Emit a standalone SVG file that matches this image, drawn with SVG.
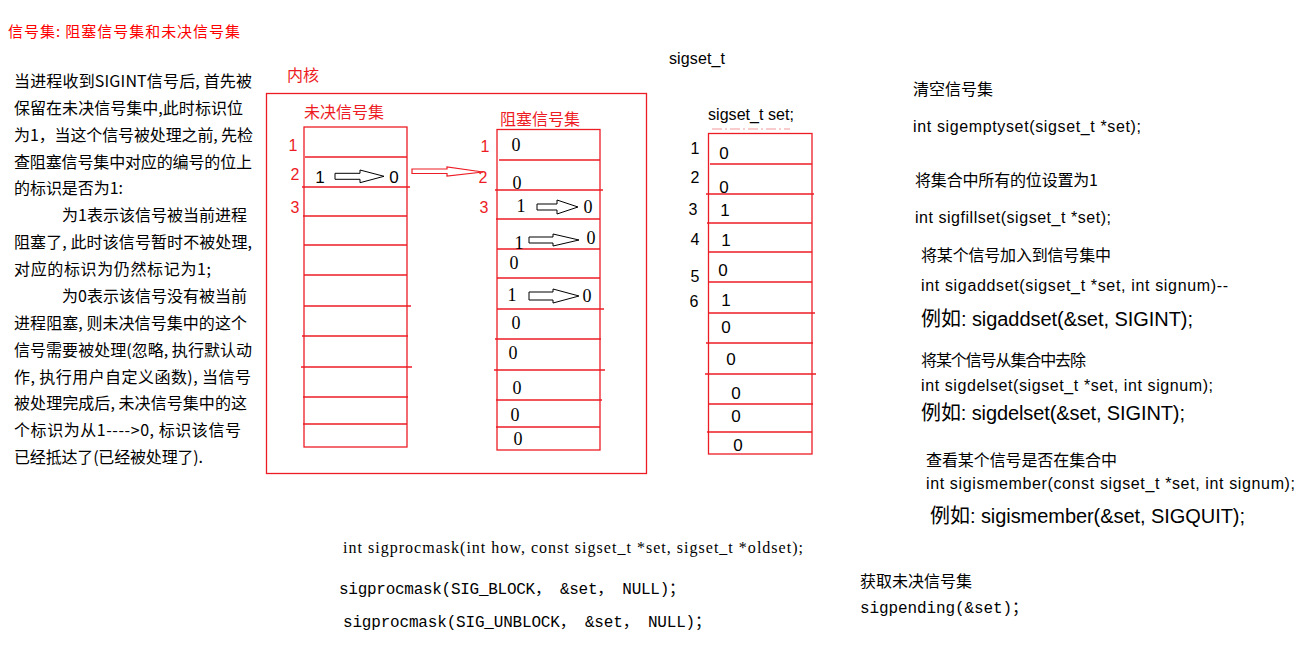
<svg xmlns="http://www.w3.org/2000/svg" width="1314" height="654" viewBox="0 0 1314 654">
<defs>
<style>
.cn{font-family:"Noto Sans CJK SC","Noto Sans",sans-serif;font-size:16px;fill:#000}
.red{fill:#ed1c24}
.ttl{font-family:"Noto Sans CJK SC",sans-serif;font-size:15px;fill:#ff0000}
.sans{font-family:"Liberation Sans","Noto Sans CJK SC",sans-serif;font-size:16px;fill:#000}
.big{font-size:20px}
.serif{font-family:"Liberation Serif","Noto Sans CJK SC",serif;font-size:16px;fill:#000}
.mono{font-family:"Liberation Mono","Noto Sans CJK SC",monospace;font-size:16px;fill:#000}
.num{font-family:"Liberation Sans",sans-serif;font-size:16px;text-anchor:middle}
.val{font-family:"Liberation Serif",serif;font-size:18px;text-anchor:middle;fill:#000}
.sval{font-family:"Liberation Sans",sans-serif;font-size:17px;text-anchor:middle;fill:#000}
.box{fill:none;stroke:#ed1c24;stroke-width:1.3}
.ln{stroke:#ed1c24;stroke-width:1.3}
.arr{fill:#fff;stroke:#000;stroke-width:1}
.rarr{fill:#fff;stroke:#ed1c24;stroke-width:1.2}
</style>
</defs>
<rect width="1314" height="654" fill="#fff"/>

<g id="title"><text class="ttl" x="8" y="36.5" textLength="232">信号集: 阻塞信号集和未决信号集</text></g>

<g id="explanation" class="cn">
<text x="14" y="87" textLength="238">当进程收到SIGINT信号后, 首先被</text>
<text x="14" y="113.9" textLength="229">保留在未决信号集中,此时标识位</text>
<text x="14" y="140.7" textLength="239">为1，当这个信号被处理之前, 先检</text>
<text x="14" y="167.6" textLength="238">查阻塞信号集中对应的编号的位上</text>
<text x="14" y="194.4" textLength="109">的标识是否为1:</text>
<text x="62" y="221.3" textLength="185">为1表示该信号被当前进程</text>
<text x="14" y="248.2" textLength="238">阻塞了, 此时该信号暂时不被处理,</text>
<text x="14" y="275" textLength="197">对应的标识为仍然标记为1;</text>
<text x="62" y="301.9" textLength="185">为0表示该信号没有被当前</text>
<text x="14" y="328.7" textLength="233">进程阻塞, 则未决信号集中的这个</text>
<text x="14" y="355.6" textLength="238">信号需要被处理(忽略, 执行默认动</text>
<text x="14" y="382.5" textLength="237">作, 执行用户自定义函数), 当信号</text>
<text x="14" y="409.3" textLength="233">被处理完成后, 未决信号集中的这</text>
<text x="14" y="436.2" textLength="227">个标识为从1----&gt;0, 标识该信号</text>
<text x="14" y="463" textLength="189">已经抵达了(已经被处理了).</text>
</g>

<g id="kernel">
<rect class="box" x="266.5" y="93.5" width="380" height="380"/>
<text class="cn red" x="287" y="81">内核</text>
</g>

<g id="pending-set">
<text class="cn red" x="304" y="118">未决信号集</text>
<rect class="box" x="304" y="127" width="103" height="320"/>
<line class="ln" x1="305" y1="157" x2="407" y2="157"/>
<line class="ln" x1="302" y1="187" x2="410" y2="187"/>
<line class="ln" x1="303" y1="216" x2="407" y2="216"/>
<line class="ln" x1="304" y1="245" x2="407" y2="245"/>
<line class="ln" x1="304" y1="275" x2="407" y2="275"/>
<line class="ln" x1="304" y1="306" x2="411" y2="306"/>
<line class="ln" x1="302" y1="336" x2="408" y2="336"/>
<line class="ln" x1="301" y1="367" x2="412" y2="367"/>
<line class="ln" x1="303" y1="397" x2="408" y2="397"/>
<line class="ln" x1="303" y1="424" x2="407" y2="424"/>
<text class="num red" x="293" y="151">1</text>
<text class="num red" x="295" y="180">2</text>
<text class="num red" x="295" y="213">3</text>
<text class="sval" x="320" y="183">1</text>
<text class="sval" x="394" y="183">0</text>
</g>

<g id="blocked-set">
<text class="cn red" x="500" y="125">阻塞信号集</text>
<rect class="box" x="497" y="129.5" width="103" height="320.5"/>
<line class="ln" x1="499" y1="160" x2="600" y2="160"/>
<line class="ln" x1="495" y1="190" x2="603" y2="190"/>
<line class="ln" x1="496" y1="219" x2="600" y2="219"/>
<line class="ln" x1="497" y1="249" x2="600" y2="249"/>
<line class="ln" x1="497" y1="278" x2="600" y2="278"/>
<line class="ln" x1="497" y1="309" x2="604" y2="309"/>
<line class="ln" x1="495" y1="339" x2="601" y2="339"/>
<line class="ln" x1="494" y1="370" x2="605" y2="370"/>
<line class="ln" x1="496" y1="400" x2="602" y2="400"/>
<line class="ln" x1="496" y1="427" x2="600" y2="427"/>
<text class="num red" x="485" y="152">1</text>
<text class="num red" x="483" y="183">2</text>
<text class="num red" x="484" y="213">3</text>
<text class="val" x="516" y="151">0</text>
<text class="val" x="517" y="189">0</text>
<text class="val" x="521" y="212">1</text>
<text class="val" x="588" y="213">0</text>
<text class="val" x="519" y="249">1</text>
<text class="val" x="591" y="244">0</text>
<text class="val" x="514" y="269">0</text>
<text class="val" x="512" y="301">1</text>
<text class="val" x="587" y="302">0</text>
<text class="val" x="516" y="329">0</text>
<text class="val" x="513" y="359">0</text>
<text class="val" x="517" y="394">0</text>
<text class="val" x="515" y="421">0</text>
<text class="val" x="518" y="445">0</text>
</g>

<g id="sigset">
<text class="sans" x="669" y="64" textLength="56">sigset_t</text>
<text class="sans" x="708" y="120" textLength="86">sigset_t set;</text>
<line x1="712" y1="129" x2="790" y2="129" stroke="#ed1c24" stroke-width="1" stroke-dasharray="10,3,2,3" opacity="0.45"/>
<rect class="box" x="708.5" y="133.5" width="103.5" height="320.5"/>
<line class="ln" x1="710" y1="164" x2="812" y2="164"/>
<line class="ln" x1="706" y1="194" x2="814" y2="194"/>
<line class="ln" x1="707" y1="223" x2="812" y2="223"/>
<line class="ln" x1="708" y1="252" x2="812" y2="252"/>
<line class="ln" x1="708" y1="282" x2="812" y2="282"/>
<line class="ln" x1="708" y1="313" x2="815" y2="313"/>
<line class="ln" x1="706" y1="343" x2="813" y2="343"/>
<line class="ln" x1="705" y1="374" x2="816" y2="374"/>
<line class="ln" x1="708" y1="404" x2="813" y2="404"/>
<line class="ln" x1="707" y1="432" x2="812" y2="432"/>
<text class="num" x="695" y="154">1</text>
<text class="num" x="695" y="183">2</text>
<text class="num" x="693" y="215">3</text>
<text class="num" x="695" y="245">4</text>
<text class="num" x="695" y="282" font-family="Liberation Serif">5</text>
<text class="num" x="694" y="307" font-family="Liberation Serif">6</text>
<text class="sval" x="724" y="159">0</text>
<text class="sval" x="724" y="193">0</text>
<text class="sval" x="725" y="216">1</text>
<text class="sval" x="726" y="246">1</text>
<text class="sval" x="723" y="276">0</text>
<text class="sval" x="726" y="306">1</text>
<text class="sval" x="726" y="333">0</text>
<text class="sval" x="731" y="365">0</text>
<text class="sval" x="736" y="399">0</text>
<text class="sval" x="736" y="422">0</text>
<text class="sval" x="738" y="451">0</text>
</g>

<g id="connectors">
<path class="arr" d="M335,173.3 L360,173.3 L360,170 L384,176.3 L360,182.7 L360,179.3 L335,179.3 Z"/>
<path class="rarr" d="M412,169 L447,169 L447,167 L483,172 L447,176 L447,173.5 L412,173.5 Z"/>
<path class="arr" d="M537,204 L557,204 L557,200 L578,207 L557,214 L557,210 L537,210 Z"/>
<path class="arr" d="M529,237 L553,237 L553,234 L579,240 L553,246 L553,243 L529,243 Z"/>
<path class="arr" d="M529,292 L553,292 L553,289 L579,296 L553,303 L553,300 L529,300 Z"/>
</g>

<g id="set-functions">
<text class="cn" x="913" y="95">清空信号集</text>
<text class="sans" x="913" y="132" textLength="228">int sigemptyset(sigset_t *set);</text>
<text class="cn" x="915" y="186" textLength="183">将集合中所有的位设置为1</text>
<text class="sans" x="915" y="223" textLength="196">int sigfillset(sigset_t *set);</text>
<text class="cn" x="921" y="261" textLength="190">将某个信号加入到信号集中</text>
<text class="sans" x="921" y="291" textLength="307">int sigaddset(sigset_t *set, int signum)--</text>
<text class="sans big" x="921" y="326" textLength="272">例如: sigaddset(&amp;set, SIGINT);</text>
<text class="cn" x="921" y="366" textLength="165">将某个信号从集合中去除</text>
<text class="sans" x="921" y="391" textLength="292">int sigdelset(sigset_t *set, int signum);</text>
<text class="sans big" x="921" y="420" textLength="264">例如: sigdelset(&amp;set, SIGINT);</text>
<text class="cn" x="926" y="466" textLength="191">查看某个信号是否在集合中</text>
<text class="sans" x="926" y="489" textLength="369">int sigismember(const sigset_t *set, int signum);</text>
<text class="sans big" x="930" y="523" textLength="315">例如:  sigismember(&amp;set, SIGQUIT);</text>
</g>

<g id="procmask">
<text class="serif" x="343" y="553" textLength="460">int sigprocmask(int how, const sigset_t *set, sigset_t *oldset);</text>
<text class="mono" x="339" y="594" textLength="346">sigprocmask(SIG_BLOCK， &amp;set， NULL)；</text>
<text class="mono" x="343" y="627" textLength="368">sigprocmask(SIG_UNBLOCK， &amp;set， NULL)；</text>
</g>

<g id="pending">
<text class="cn" x="860" y="587" font-size="18.5">获取未决信号集</text>
<text class="mono" x="860" y="613" textLength="168">sigpending(&amp;set)；</text>
</g>
</svg>
